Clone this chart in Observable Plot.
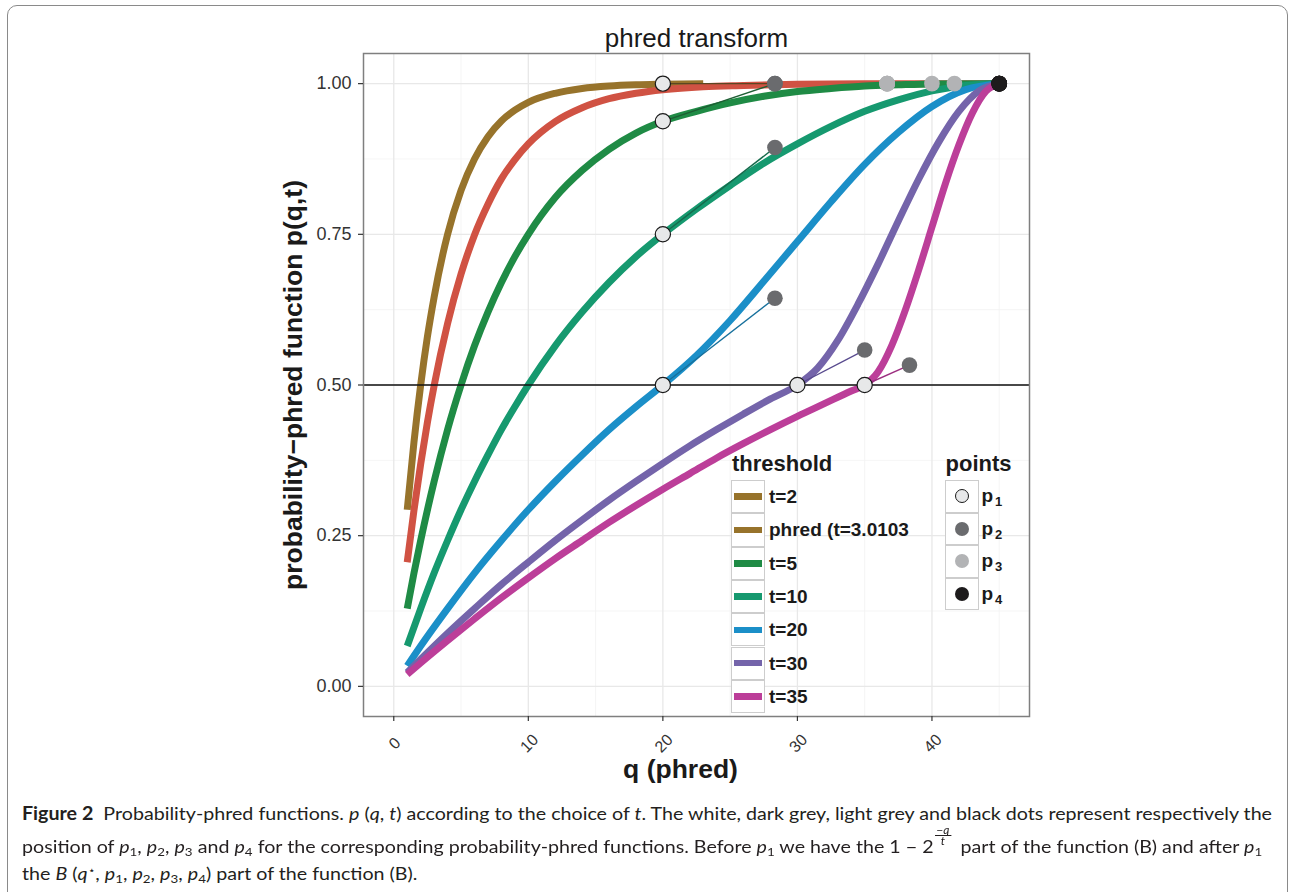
<!DOCTYPE html>
<html>
<head>
<meta charset="utf-8">
<script src="https://cdn.jsdelivr.net/npm/d3@7"></script>
<script src="https://cdn.jsdelivr.net/npm/@observablehq/plot@0.6"></script>
<style>
  html, body { margin:0; padding:0; background:#fff; overflow:hidden; width:1295px; height:892px; }
  #border { position:absolute; left:7px; top:5px; width:1281px; height:1000px; border:1.6px solid #8a8a8a; border-radius:10px; box-sizing:border-box; }
  #chart { position:absolute; left:0; top:0; }
  .lg-title { position:absolute; font: bold 22px "Liberation Sans", Arial, sans-serif; color:#1a1a1a; line-height:22px; white-space:nowrap; }
  .key { position:absolute; box-sizing:border-box; border:1.3px solid #cdcdcd; background:#fff; }
  .lab { position:absolute; font: bold 19px "Liberation Sans", Arial, sans-serif; color:#1a1a1a; white-space:nowrap; }
  .lab sub { font-size:13px; vertical-align:-4px; line-height:0; margin-left:2px; }
  #caption { position:absolute; left:22px; top:0; font-family: Lato, "Noto Sans", sans-serif; font-size:18px; color:#231f20; }
  .ln { position:absolute; left:0; white-space:nowrap; line-height:20px; height:20px; transform-origin:0 0; }
  .ln sub { font-size:0.68em; vertical-align:-0.25em; line-height:0; }
  .ln sup { font-size:0.6em; vertical-align:0.6em; line-height:0; }
  .fracw { display:inline-block; position:relative; width:15px; height:1px; margin:0 4px 0 1px; }
  .frac { position:absolute; left:0; bottom:7px; width:15px; font-size:11px; line-height:10px; text-align:center; }
  .frac .num { display:block; border-bottom:0.9px solid #231f20; }
  .frac .den { display:block; }
</style>
</head>
<body>
<div id="border"></div>
<div id="chart"></div>
<div id="legend"></div>
<div id="caption">
  <div class="ln" id="l1"><b>Figure 2</b>&nbsp; Probability-phred functions. <i>p</i> (<i>q</i>, <i>t</i>) according to the choice of <i>t</i>. The white, dark grey, light grey and black dots represent respectively the</div>
  <div class="ln" id="l2">position of <i>p</i><sub>1</sub>, <i>p</i><sub>2</sub>, <i>p</i><sub>3</sub> and <i>p</i><sub>4</sub> for the corresponding probability-phred functions. Before <i>p</i><sub>1</sub> we have the 1 − 2<span class="fracw"><span class="frac"><span class="num">−<i>q</i></span><span class="den"><i>t</i></span></span></span> part of the function (B) and after <i>p</i><sub>1</sub></div>
  <div class="ln" id="l3">the <i>B</i> (<i>q</i><sup>⋆</sup>, <i>p</i><sub>1</sub>, <i>p</i><sub>2</sub>, <i>p</i><sub>3</sub>, <i>p</i><sub>4</sub>) part of the function (B).</div>
</div>
<script>
// ---------- data ----------
const thresholdLabels = ["t=2", "phred (t=3.0103", "t=5", "t=10", "t=20", "t=30", "t=35"];

const qT2 = [1, 1.5, 2, 2.5, 3, 4, 5, 6, 7, 8, 9, 10, 12, 14, 16, 18, 20, 23];
const pT2 = [0.293, 0.405, 0.5, 0.580, 0.646, 0.75, 0.823, 0.875, 0.912, 0.938, 0.956, 0.969, 0.984, 0.992, 0.996, 0.998, 0.999, 1.0];

const qPhred = [1, 1.5, 2, 2.5, 3, 4, 5, 6, 7, 8, 9, 10, 12, 14, 16, 18, 20, 23, 26, 30, 35, 40, 45];
const pPhred = [0.206, 0.292, 0.369, 0.438, 0.499, 0.602, 0.684, 0.749, 0.800, 0.842, 0.874, 0.900, 0.937, 0.960, 0.975, 0.984, 0.990, 0.995, 0.997, 0.999, 1.0, 1.0, 1.0];

const qT5 = [1, 1.5, 2, 3, 4, 5, 6, 7, 8, 9, 10, 12, 14, 16, 18, 20, 22.5, 25, 27.5, 30, 32.5, 35, 37.5, 40, 45];
const pT5 = [0.129, 0.188, 0.242, 0.340, 0.426, 0.5, 0.565, 0.621, 0.670, 0.713, 0.75, 0.811, 0.856, 0.891, 0.918, 0.9375, 0.954, 0.968, 0.979, 0.987, 0.992, 0.996, 0.998, 0.9995, 1.0];

const qT10 = [1, 2, 3, 4, 5, 6, 7, 8, 9, 10, 12, 14, 16, 18, 20, 22.5, 25, 27.5, 30, 32.5, 35, 37.5, 40, 42.5, 45];
const pT10 = [0.067, 0.129, 0.188, 0.242, 0.293, 0.340, 0.384, 0.426, 0.464, 0.5, 0.565, 0.621, 0.670, 0.713, 0.75, 0.792, 0.831, 0.868, 0.900, 0.929, 0.954, 0.973, 0.988, 0.997, 1.0];

const qT20 = [1, 2, 4, 6, 8, 10, 12, 14, 16, 18, 20, 22.5, 25, 27.5, 30, 32.5, 35, 37.5, 40, 42.5, 45];
const pT20 = [0.034, 0.067, 0.129, 0.188, 0.242, 0.293, 0.340, 0.384, 0.426, 0.464, 0.5, 0.549, 0.607, 0.672, 0.738, 0.804, 0.866, 0.919, 0.962, 0.990, 1.0];

const qT30 = [1, 2, 4, 6, 8, 10, 12, 14, 16, 18, 20, 22, 24, 26, 28, 30, 31.5, 33, 34.5, 36, 37.5, 39, 40.5, 42, 43.5, 45];
const pT30 = [0.023, 0.045, 0.088, 0.129, 0.169, 0.206, 0.242, 0.276, 0.309, 0.340, 0.370, 0.399, 0.426, 0.452, 0.477, 0.5, 0.528, 0.574, 0.634, 0.701, 0.772, 0.841, 0.903, 0.954, 0.988, 1.0];

const qT35 = [1, 2, 4, 6, 8, 10, 12, 14, 16, 18, 20, 22, 24, 26, 28, 30, 32, 34, 35, 36, 37, 38, 39, 40, 41, 42, 43, 44, 45];
const pT35 = [0.020, 0.039, 0.076, 0.112, 0.147, 0.180, 0.212, 0.242, 0.272, 0.300, 0.327, 0.353, 0.379, 0.403, 0.426, 0.448, 0.469, 0.490, 0.5, 0.522, 0.565, 0.623, 0.690, 0.762, 0.834, 0.898, 0.951, 0.987, 1.0];

// control points per curve (t=2, t=5, t=10, t=20, t=30, t=35)
const pointSeries = ["t=2", "t=5", "t=10", "t=20", "t=30", "t=35"];
const p1Q = [20, 20, 20, 20, 30, 35];
const p1P = [1.0, 0.9375, 0.75, 0.5, 0.5, 0.5];
const p2Q = [28.33, 28.33, 28.33, 28.33, 35, 38.33];
const p2P = [1.0, 1.0, 0.894, 0.644, 0.558, 0.533];
const p3Q = [36.67, 36.67, 36.67, 36.67, 40, 41.67];
const p3P = [1.0, 1.0, 1.0, 1.0, 1.0, 1.0];
const p4Q = [45, 45, 45, 45, 45, 45];
const p4P = [1.0, 1.0, 1.0, 1.0, 1.0, 1.0];
const pointLabels = ["1", "2", "3", "4"];

const hLine = [0.5];
const xTicks = [0, 10, 20, 30, 40];
const xMinor = [5, 15, 25, 35, 45];
const yTicks = [0, 0.25, 0.5, 0.75, 1];
const yMinor = [0.125, 0.375, 0.625, 0.875];

// ---------- styles ----------
const lineColors = ["#97732b", "#d05243", "#1f8b45", "#16996f", "#1b8fc8", "#7464aa", "#bc3e99"];
const legendSwatch = ["#97732b", "#97732b", "#1f8b45", "#16996f", "#1b8fc8", "#7464aa", "#bc3e99"];
const segColors = {"t=2": "#5b4622", "t=5": "#1d5e33", "t=10": "#166b4c", "t=20": "#17709c", "t=30": "#584a8e", "t=35": "#9c2f80"};
const dotFill = ["#e7e8e9", "#6a6b6e", "#b2b3b5", "#1d1b1c"];
const FONT = "'Liberation Sans', Arial, Helvetica, sans-serif";

// ---------- tables ----------
const curves = [[qT2, pT2], [qPhred, pPhred], [qT5, pT5], [qT10, pT10], [qT20, pT20], [qT30, pT30], [qT35, pT35]];
const curveData = curves.flatMap(([qs, ps], k) => qs.map((q, i) => ({series: thresholdLabels[k], q, p: ps[i]})));
const segData = pointSeries.map((s, i) => ({series: s, x1: p1Q[i], y1: p1P[i], x2: p2Q[i], y2: p2P[i]}));
const dotSets = [[p1Q, p1P], [p2Q, p2P], [p3Q, p3P], [p4Q, p4P]];
const dotData = dotSets.flatMap(([qs, ps], k) => qs.map((q, i) => ({kind: k, series: pointSeries[i], q, p: ps[i]})));

const chart = Plot.plot({
  width: 1295, height: 800,
  marginLeft: 363, marginRight: 266, marginTop: 53, marginBottom: 84,
  x: {domain: [-2.25, 47.25]},
  y: {domain: [-0.05, 1.05]},
  color: {domain: thresholdLabels, range: lineColors},
  style: {fontFamily: FONT, background: "transparent", overflow: "visible"},
  marks: [
    Plot.gridX(xMinor, {stroke: "#f3f3f3", strokeOpacity: 1, strokeWidth: 0.8}),
    Plot.gridY(yMinor, {stroke: "#f3f3f3", strokeOpacity: 1, strokeWidth: 0.8}),
    Plot.gridX(xTicks, {stroke: "#e8e8e8", strokeOpacity: 1, strokeWidth: 1.3}),
    Plot.gridY(yTicks, {stroke: "#e8e8e8", strokeOpacity: 1, strokeWidth: 1.3}),
    Plot.line(curveData, {x: "q", y: "p", z: "series", stroke: "series", strokeWidth: 7,
      curve: "monotone-x", strokeLinecap: "butt", strokeLinejoin: "round"}),
    Plot.link(segData, {x1: "x1", y1: "y1", x2: "x2", y2: "y2", stroke: d => segColors[d.series], strokeWidth: 1.4}),
    Plot.ruleY(hLine, {stroke: "#111", strokeWidth: 1.5}),
    Plot.dot(dotData.filter(d => d.kind === 1), {x: "q", y: "p", r: 7.8, fill: dotFill[1], stroke: "none"}),
    Plot.dot(dotData.filter(d => d.kind === 2), {x: "q", y: "p", r: 7.8, fill: dotFill[2], stroke: "none"}),
    Plot.dot(dotData.filter(d => d.kind === 3), {x: "q", y: "p", r: 7.8, fill: dotFill[3], stroke: "none"}),
    Plot.dot(dotData.filter(d => d.kind === 0), {x: "q", y: "p", r: 7.6, fill: dotFill[0], stroke: "#1a1a1a", strokeWidth: 1.2}),
    Plot.frame({stroke: "#7f7f7f", strokeWidth: 1.5}),
    Plot.axisY(yTicks, {tickFormat: d => d.toFixed(2), tickSize: 5, tickPadding: 7, fontSize: 18,
      fill: "#333", stroke: "#333", strokeWidth: 1.2, label: null}),
    Plot.axisX(xTicks, {tickFormat: () => "", tickSize: 5, stroke: "#333", strokeWidth: 1.2, label: null}),
    Plot.text(xTicks, {x: d => d, frameAnchor: "bottom", dy: 27, dx: 1, rotate: -45,
      text: d => String(d), fontSize: 16, fill: "#333", textAnchor: "middle", lineAnchor: "middle"}),
    Plot.text(["phred transform"], {frameAnchor: "top", dy: -7, lineAnchor: "bottom", textAnchor: "middle",
      fontSize: 26, fill: "#1a1a1a"}),
    Plot.text(["q (phred)"], {frameAnchor: "bottom", dx: -16, dy: 61, lineAnchor: "bottom", textAnchor: "middle",
      fontSize: 26.5, fontWeight: "bold", fill: "#1a1a1a"}),
    Plot.text(["probability\u2212phred function p(q,t)"], {frameAnchor: "left", dx: -62, rotate: -90,
      lineAnchor: "bottom", textAnchor: "middle", fontSize: 26.5, fontWeight: "bold", fill: "#1a1a1a"})
  ]
});
document.getElementById("chart").appendChild(chart);

// ---------- legend ----------
const lg = document.getElementById("legend");
function el(cls, css, html) {
  const d = document.createElement("div");
  d.className = cls; Object.assign(d.style, css); if (html != null) d.innerHTML = html;
  lg.appendChild(d); return d;
}
el("lg-title", {left: "732px", top: "453px"}, "threshold");
const kh = 33.3;
thresholdLabels.forEach((lab, i) => {
  const top = 480 + kh * i;
  el("key", {left: "731px", top: top + "px", width: "33.5px", height: kh + "px"});
  el("", {position: "absolute", left: "734px", top: (top + kh / 2 - 3.25) + "px", width: "28px", height: "6.5px", background: legendSwatch[i]});
  el("lab", {left: "769px", top: top + "px", height: kh + "px", lineHeight: kh + "px"}, lab);
});
el("lg-title", {left: "945.5px", top: "453px"}, "points");
const ph = 32.5;
pointLabels.forEach((lab, i) => {
  const top = 480 + ph * i;
  el("key", {left: "944.5px", top: top + "px", width: "34px", height: ph + "px"});
  el("", {position: "absolute", left: (961.5 - 7) + "px", top: (top + ph / 2 - 7) + "px", width: "14px", height: "14px",
    borderRadius: "50%", boxSizing: "border-box", background: dotFill[i], border: i === 0 ? "1.2px solid #1a1a1a" : "none"});
  el("lab", {left: "981.5px", top: top + "px", height: ph + "px", lineHeight: ph + "px"}, "p<sub>" + lab + "</sub>");
});

// ---------- caption ----------
const baselines = [819, 852, 879];
["l1", "l2", "l3"].forEach((id, i) => { document.getElementById(id).style.top = (baselines[i] - 16) + "px"; });
const w1 = document.getElementById("l1").getBoundingClientRect().width;
const s = 1250 / w1;
["l1", "l2", "l3"].forEach(id => { document.getElementById(id).style.transform = `scaleX(${s})`; });
</script>
</body>
</html>
